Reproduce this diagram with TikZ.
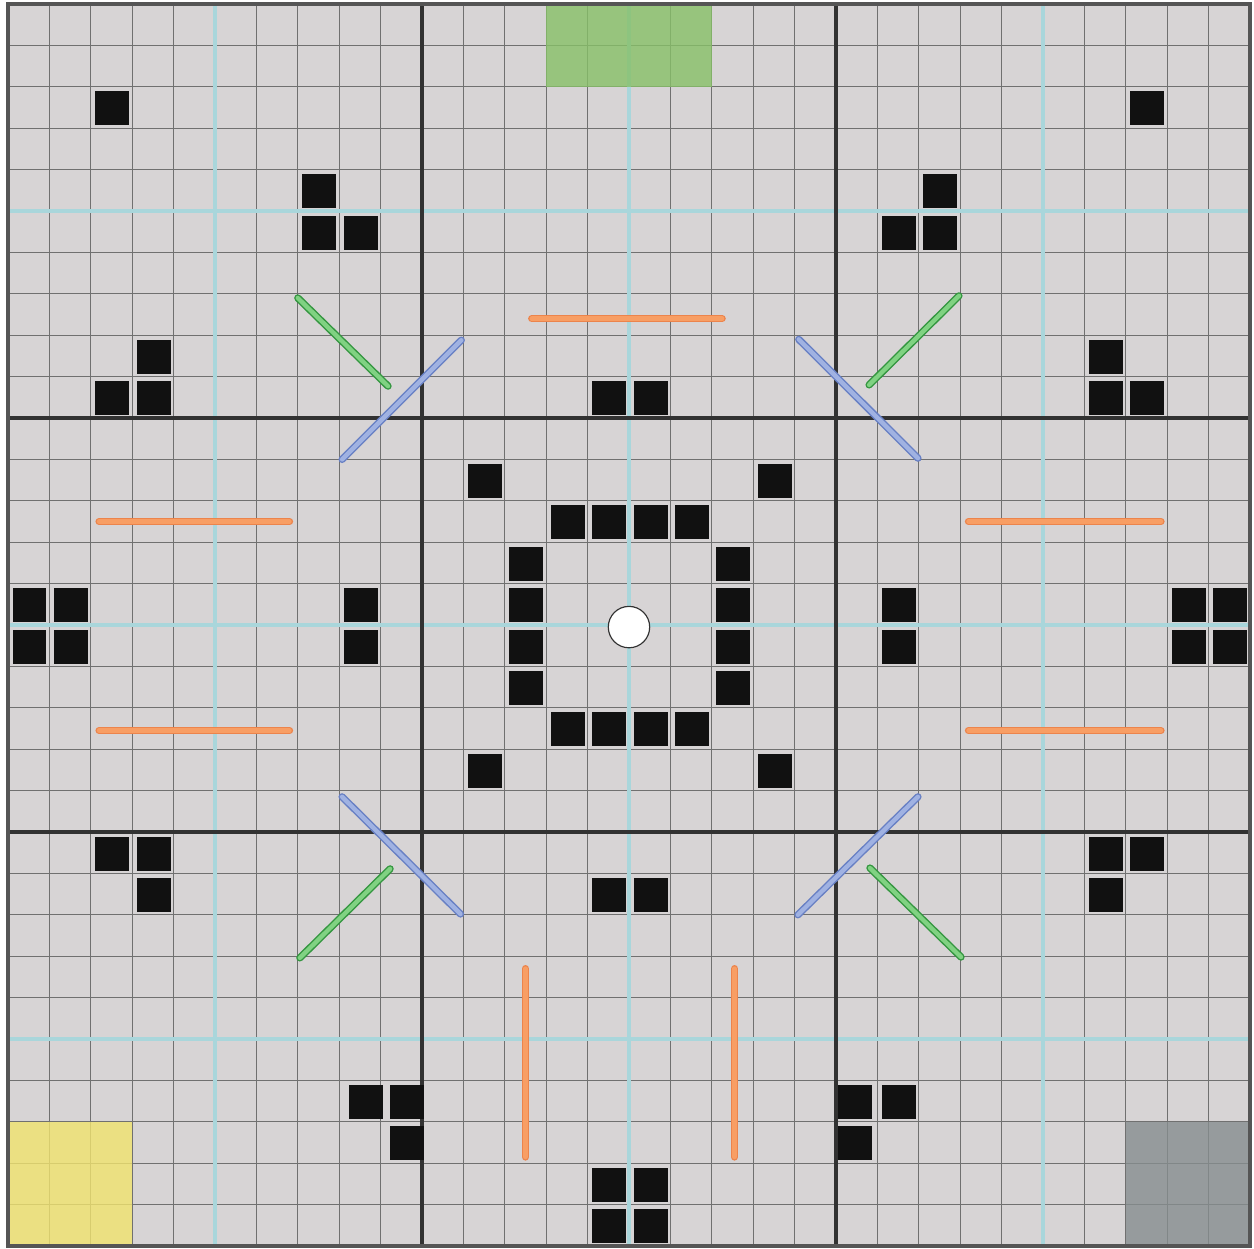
\documentclass[tikz,border=0pt]{standalone}
\usepackage{xcolor}
\usepackage{tikz}

\definecolor{boardbg}{RGB}{215,212,213}
\definecolor{gridgray}{RGB}{112,112,112}
\definecolor{guidecyan}{RGB}{169,214,219}
\definecolor{majorgray}{RGB}{50,50,50}
\definecolor{framegray}{RGB}{85,85,85}
\definecolor{zonegreen}{RGB}{135,192,104}
\definecolor{zoneyellow}{RGB}{241,228,110}
\definecolor{zonegray}{RGB}{134,141,143}
\definecolor{orangeedge}{RGB}{236,132,76}
\definecolor{orangefill}{RGB}{248,158,100}
\definecolor{blueedge}{RGB}{104,128,196}
\definecolor{bluefill}{RGB}{160,178,226}
\definecolor{greenedge}{RGB}{52,150,64}
\definecolor{greenfill}{RGB}{128,210,130}

\begin{document}
\begin{tikzpicture}[
  x=1cm, y=-1cm,
  minorline/.style={draw=gridgray, line width=0.9pt},
  guideline/.style={draw=guidecyan, line width=2.8pt},
  majorline/.style={draw=majorgray, line width=2.2pt},
  zone/.style={fill opacity=0.8},
  block/.style={fill={rgb,255:red,17;green,17;blue,17}},
  stick/.style={line cap=round, line width=1pt, double distance=3pt},
  orangestick/.style={stick, draw=orangeedge, double=orangefill},
  bluestick/.style={stick, draw=blueedge, double=bluefill},
  greenstick/.style={stick, draw=greenedge, double=greenfill}
]
\useasboundingbox (-0.193,-0.097) rectangle (30.097,30.072);
\fill[boardbg] (0,0) rectangle (30,30);

% fine grid
\foreach \k in {1,...,29} {
  \draw[minorline] (\k,0) -- (\k,30);
  \draw[minorline] (0,\k) -- (30,\k);
}
% cyan guides
\foreach \k in {5,15,25} {
  \draw[guideline] (\k,0) -- (\k,30);
  \draw[guideline] (0,\k) -- (30,\k);
}
% thick sector lines
\foreach \k in {10,20} {
  \draw[majorline] (\k,0) -- (\k,30);
  \draw[majorline] (0,\k) -- (30,\k);
}

% coloured zones
\fill[zone, zonegreen] (13,0) rectangle (17,2);
\fill[zone, zoneyellow] (0,27) rectangle (3,30);
\fill[zone, zonegray] (27,27) rectangle (30,30);

% black blocks
\foreach \c/\r in {2/2, 7/4, 7/5, 8/5, 3/8, 2/9, 3/9,
                   14/9, 15/9,
                   27/2, 22/4, 21/5, 22/5, 26/8, 26/9, 27/9,
                   11/11, 18/11, 13/12, 14/12, 15/12, 16/12,
                   12/13, 12/14, 12/15, 12/16, 17/13, 17/14, 17/15, 17/16,
                   13/17, 14/17, 15/17, 16/17, 11/18, 18/18,
                   0/14, 1/14, 0/15, 1/15, 8/14, 8/15,
                   21/14, 21/15, 28/14, 29/14, 28/15, 29/15,
                   2/20, 3/20, 3/21, 8.12/26, 9.12/26, 9.12/27,
                   14/21, 15/21, 14/28, 15/28, 14/29, 15/29,
                   26/20, 27/20, 26/21, 19.95/26, 21/26, 19.95/27}
  \fill[block] (\c+0.11,\r+0.11) rectangle (\c+0.93,\r+0.93);

% orange bars
\draw[orangestick] (12.65,7.6) -- (17.25,7.6);
\draw[orangestick] (2.2,12.5) -- (6.8,12.5);
\draw[orangestick] (2.2,17.55) -- (6.8,17.55);
\draw[orangestick] (23.2,12.5) -- (27.85,12.5);
\draw[orangestick] (23.2,17.55) -- (27.85,17.55);
\draw[orangestick] (12.5,23.3) -- (12.5,27.85);
\draw[orangestick] (17.55,23.3) -- (17.55,27.85);

% blue diagonals
\draw[bluestick] (8.07,11) -- (10.95,8.12);
\draw[bluestick] (19.1,8.1) -- (21.98,10.97);
\draw[bluestick] (8.07,19.15) -- (10.93,21.98);
\draw[bluestick] (19.08,22) -- (21.98,19.15);

% green diagonals
\draw[greenstick] (7,7.1) -- (9.18,9.23);
\draw[greenstick] (20.8,9.2) -- (22.97,7.05);
\draw[greenstick] (7.05,23.04) -- (9.23,20.89);
\draw[greenstick] (20.82,20.87) -- (23.02,23.02);

% centre marker
\node[circle, draw=majorgray, fill=white, line width=0.8pt,
      minimum size=1cm, inner sep=0pt] (centre) at (15,15.05) {};

% frame
\draw[draw=framegray, line width=2.6pt] (0,0) rectangle (30,30);
\end{tikzpicture}
\end{document}
